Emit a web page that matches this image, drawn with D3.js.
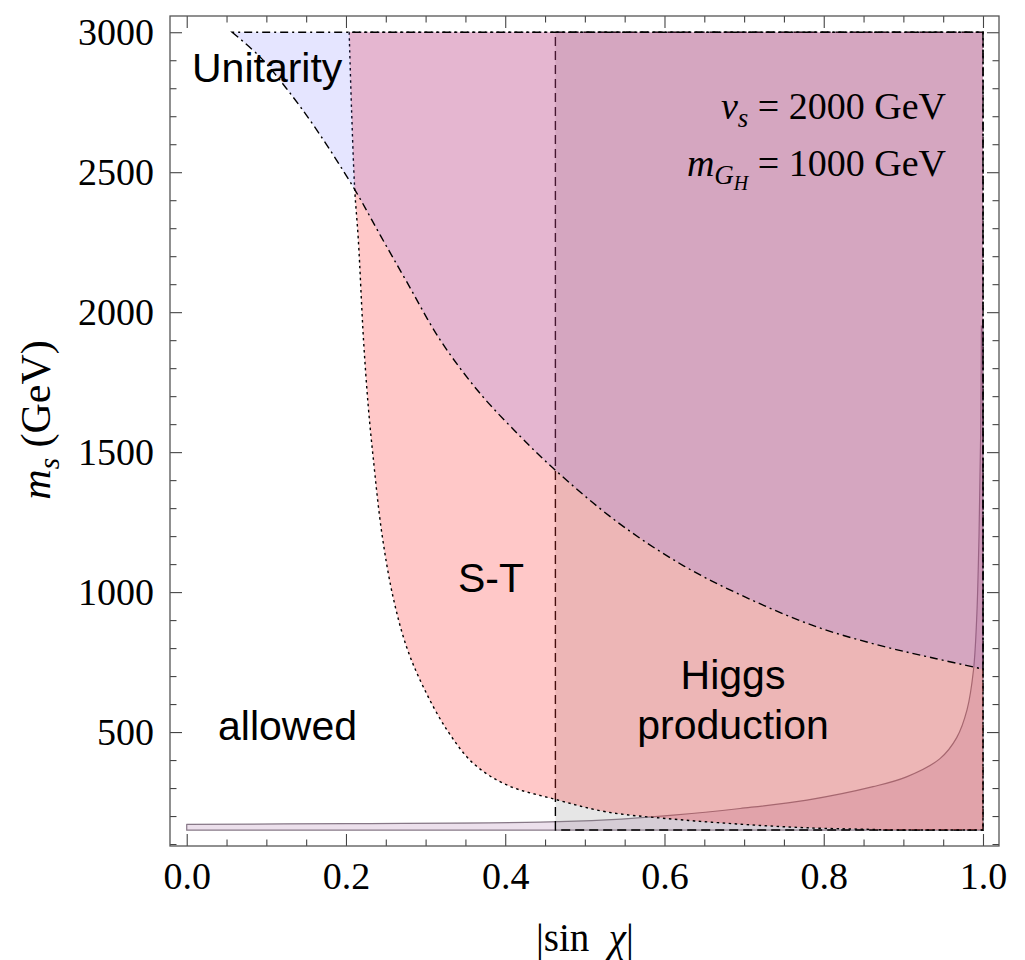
<!DOCTYPE html>
<html>
<head>
<meta charset="utf-8">
<script src="https://cdn.jsdelivr.net/npm/d3@7"></script>
<style>
  html, body { margin: 0; padding: 0; background: #fff; }
  svg { display: block; }
</style>
</head>
<body>
<script>
// ---------------- data ----------------
// Unitarity bound (dash-dot): excluded region above the curve
const unitarityX = [0.057, 0.092, 0.125, 0.163, 0.211, 0.243, 0.276, 0.318, 0.368, 0.419, 0.460, 0.540, 0.624, 0.707, 0.791, 0.875, 0.940, 1.0];
const unitarityM = [3000, 2912, 2800, 2652, 2438, 2275, 2110, 1902, 1711, 1556, 1443, 1252, 1094, 975, 876, 806, 763, 725];
// S-T bound (dotted): excluded region right/above of curve
const stX = [0.204, 0.207, 0.211, 0.2155, 0.222, 0.228, 0.234, 0.245, 0.259, 0.276, 0.297, 0.327, 0.360, 0.402, 0.4625, 0.527, 0.611, 0.695, 0.779, 0.862, 0.88];
const stM = [3000, 2724, 2438, 2259, 1902, 1663, 1485, 1211, 984, 805, 662, 507, 388, 311, 260, 215, 189, 171, 158, 152, 150];
// Higgs production bound (dashed): |sin chi| above this value
const higgsXmin = [0.463];
// Thin band (solid): region below the curve
const bandX = [0, 0.2, 0.444, 0.527, 0.611, 0.695, 0.779, 0.862, 0.904, 0.946, 0.967, 0.980, 0.988, 0.992, 0.995, 0.997, 0.998];
const bandM = [170, 173, 178, 186, 203, 227, 257, 305, 340, 405, 480, 580, 720, 900, 1200, 1550, 1950];
// plot range of the regions
const regionM = [150, 3000];
const regionX = [0, 1];
// ticks
const xTicks = [0, 0.2, 0.4, 0.6, 0.8, 1.0];
const xTickLabels = ["0.0", "0.2", "0.4", "0.6", "0.8", "1.0"];
const yTicks = [500, 1000, 1500, 2000, 2500, 3000];
const yTickLabels = ["500", "1000", "1500", "2000", "2500", "3000"];

// ---------------- layout ----------------
const W = 1025, H = 960;
const L = 170, R = 999, T = 16, B = 846;
const x = d3.scaleLinear().domain([-0.021, 1.0201]).range([L, R]);
const y = d3.scaleLinear().domain([93, 3058]).range([B, T]);

const svg = d3.select("body").append("svg").attr("width", W).attr("height", H);
svg.append("rect").attr("width", W).attr("height", H).attr("fill", "#fff");

svg.append("clipPath").attr("id", "clip")
  .append("rect").attr("x", L).attr("y", T).attr("width", R - L).attr("height", B - T);

const plot = svg.append("g").attr("clip-path", "url(#clip)");

const curveGen = d3.line().x(d => x(d[0])).y(d => y(d[1])).curve(d3.curveCatmullRom.alpha(0.5));
const P = (a, b) => `L${x(a)},${y(b)}`;

// thin band
const bandPts = bandX.map((v, i) => [v, bandM[i]]);
const bandLast = bandPts[bandPts.length - 1];
const bandPath = `M${x(regionX[0])},${y(regionM[0])}` + P(bandPts[0][0], bandPts[0][1]) +
  curveGen(bandPts).replace(/^M/, "L") + P(regionX[1], bandLast[1]) + P(regionX[1], regionM[0]) + "Z";
plot.append("path").attr("d", bandPath)
  .attr("fill", "rgb(160,100,160)").attr("fill-opacity", 0.2)
  .attr("stroke", "rgb(135,120,135)").attr("stroke-width", 1.2);

// Higgs production region
plot.append("path")
  .attr("d", `M${x(higgsXmin[0])},${y(regionM[0])}` + P(higgsXmin[0], regionM[1]) + P(regionX[1], regionM[1]) + P(regionX[1], regionM[0]) + "Z")
  .attr("fill", "rgb(128,128,128)").attr("fill-opacity", 0.2)
  .attr("stroke", "#000").attr("stroke-width", 1.4).attr("stroke-dasharray", "9,5");

// S-T region
const stPts = stX.map((v, i) => [v, stM[i]]);
const stPath = curveGen(stPts) + P(regionX[1], regionM[0]) + P(regionX[1], regionM[1]) + "Z";
plot.append("path").attr("d", stPath)
  .attr("fill", "rgb(255,51,51)").attr("fill-opacity", 0.27)
  .attr("stroke", "#000").attr("stroke-width", 1.4).attr("stroke-dasharray", "2.5,3.5");

// Unitarity region
const uPts = unitarityX.map((v, i) => [v, unitarityM[i]]);
const uPath = curveGen(uPts) + P(regionX[1], regionM[1]) + "Z";
plot.append("path").attr("d", uPath)
  .attr("fill", "rgb(76,76,255)").attr("fill-opacity", 0.145)
  .attr("stroke", "#000").attr("stroke-width", 1.4).attr("stroke-dasharray", "8,4,2,4");

// ---------------- frame & axes ----------------
const serif = "'Liberation Serif','Times New Roman',serif";
const sans = "'Liberation Sans',Arial,Helvetica,sans-serif";
const tickCol = "#444";

const xMinor = d3.range(0, 1.0001, 0.05).filter(v => Math.abs(v / 0.2 - Math.round(v / 0.2)) > 1e-6);
const yMinor = d3.range(100, 3001, 100).filter(v => v % 500 !== 0);

function styleAxis(g) {
  g.select(".domain").remove();
  g.selectAll("line").attr("stroke", tickCol).attr("stroke-width", 1.1);
  g.selectAll("text").attr("font-family", serif).attr("font-size", 38).attr("fill", "#000");
}

const fmtX = (d) => xTickLabels[xTicks.indexOf(d)];
const fmtY = (d) => yTickLabels[yTicks.indexOf(d)];

// bottom
svg.append("g").attr("transform", `translate(0,${B})`)
  .call(d3.axisBottom(x).tickValues(xTicks).tickFormat(fmtX).tickSize(-12).tickPadding(16)).call(styleAxis);
svg.append("g").attr("transform", `translate(0,${B})`)
  .call(d3.axisBottom(x).tickValues(xMinor).tickFormat("").tickSize(-6.5)).call(styleAxis);
// top
svg.append("g").attr("transform", `translate(0,${T})`)
  .call(d3.axisTop(x).tickValues(xTicks).tickFormat("").tickSize(-12)).call(styleAxis);
svg.append("g").attr("transform", `translate(0,${T})`)
  .call(d3.axisTop(x).tickValues(xMinor).tickFormat("").tickSize(-6.5)).call(styleAxis);
// left
svg.append("g").attr("transform", `translate(${L},0)`)
  .call(d3.axisLeft(y).tickValues(yTicks).tickFormat(fmtY).tickSize(-12).tickPadding(16)).call(styleAxis);
svg.append("g").attr("transform", `translate(${L},0)`)
  .call(d3.axisLeft(y).tickValues(yMinor).tickFormat("").tickSize(-6.5)).call(styleAxis);
// right
svg.append("g").attr("transform", `translate(${R},0)`)
  .call(d3.axisRight(y).tickValues(yTicks).tickFormat("").tickSize(-12)).call(styleAxis);
svg.append("g").attr("transform", `translate(${R},0)`)
  .call(d3.axisRight(y).tickValues(yMinor).tickFormat("").tickSize(-6.5)).call(styleAxis);

svg.append("rect").attr("x", L).attr("y", T).attr("width", R - L).attr("height", B - T)
  .attr("fill", "none").attr("stroke", "#555").attr("stroke-width", 1.3);

// ---------------- labels ----------------
// y label
const yl = svg.append("text")
  .attr("transform", `translate(50,420) rotate(-90)`)
  .attr("text-anchor", "middle").attr("font-family", serif).attr("font-size", 42);
yl.append("tspan").attr("font-style", "italic").text("m");
yl.append("tspan").attr("font-style", "italic").attr("font-size", 29).attr("dy", 9).text("s");
yl.append("tspan").attr("dy", -9).text(" (GeV)");

// x label
const xl = svg.append("text")
  .attr("x", (x(0) + x(1)) / 2).attr("y", 951)
  .attr("text-anchor", "middle").attr("font-family", serif).attr("font-size", 39);
xl.append("tspan").text("|sin\u00A0\u00A0");
xl.append("tspan").attr("font-style", "italic").text("\u03C7");
xl.append("tspan").text("|");

// region labels
const lab = (txt, px, py, anchor) => svg.append("text").attr("x", px).attr("y", py)
  .attr("text-anchor", anchor || "start").attr("font-family", sans).attr("font-size", 41).attr("fill", "#000").text(txt);
lab("Unitarity", 192, 82);
lab("allowed", 218, 740);
lab("S-T", 458, 592);
lab("Higgs", 733, 689, "middle");
lab("production", 733, 739, "middle");

// annotation
const a1 = svg.append("text").attr("x", 946).attr("y", 119).attr("text-anchor", "end")
  .attr("font-family", serif).attr("font-size", 38);
a1.append("tspan").attr("font-style", "italic").text("v");
a1.append("tspan").attr("font-style", "italic").attr("font-size", 27).attr("dy", 8).text("s");
a1.append("tspan").attr("dy", -8).text(" = 2000 GeV");

const a2 = svg.append("text").attr("x", 946).attr("y", 176).attr("text-anchor", "end")
  .attr("font-family", serif).attr("font-size", 38);
a2.append("tspan").attr("font-style", "italic").text("m");
a2.append("tspan").attr("font-style", "italic").attr("font-size", 27).attr("dy", 8).text("G");
a2.append("tspan").attr("font-style", "italic").attr("font-size", 20).attr("dy", 6).text("H");
a2.append("tspan").attr("dy", -14).text(" = 1000 GeV");
</script>
</body>
</html>
